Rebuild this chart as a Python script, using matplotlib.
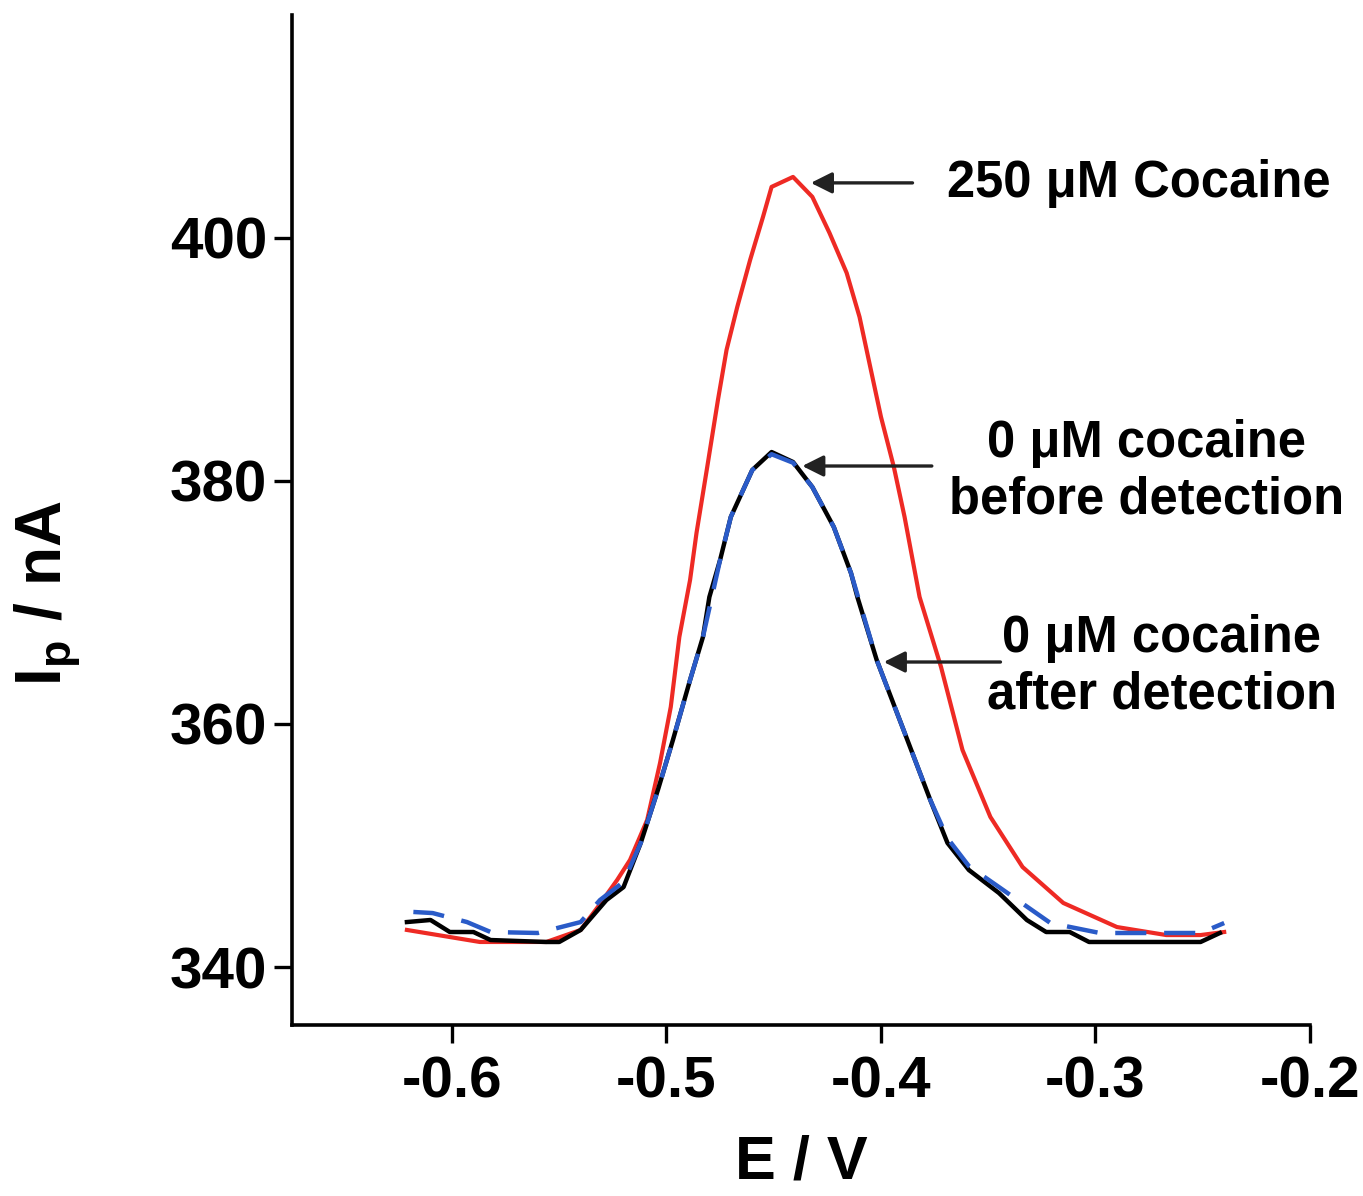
import matplotlib
matplotlib.use("Agg")
import matplotlib.pyplot as plt
from matplotlib import rcParams

# ---------------- fonts ----------------
rcParams['font.family'] = ['Liberation Sans', 'DejaVu Sans']
rcParams['font.weight'] = 'bold'
rcParams['mathtext.fontset'] = 'custom'
rcParams['mathtext.rm'] = 'Liberation Sans:bold'
rcParams['mathtext.it'] = 'Liberation Sans:bold'
rcParams['mathtext.bf'] = 'Liberation Sans:bold'

# ---------------- data ----------------
# 250 uM cocaine (red)
E_red = [-0.621, -0.587, -0.556, -0.540, -0.532, -0.523, -0.517, -0.509, -0.503,
         -0.498, -0.494, -0.489, -0.486, -0.481, -0.476, -0.472, -0.467, -0.461,
         -0.455, -0.451, -0.441, -0.432, -0.424, -0.416, -0.410, -0.405, -0.400,
         -0.394, -0.389, -0.382, -0.372, -0.362, -0.349, -0.334, -0.315, -0.290,
         -0.267, -0.251, -0.240]
I_red = [343.05, 342.06, 342.06, 343.05, 344.94, 347.16, 348.81, 352.10, 356.79,
         361.40, 367.16, 371.85, 375.72, 381.15, 386.67, 390.78, 394.32, 398.19,
         401.73, 404.20, 405.02, 403.38, 400.41, 397.12, 393.50, 389.38, 385.27,
         381.15, 377.04, 370.45, 364.69, 357.86, 352.35, 348.23, 345.27, 343.29,
         342.63, 342.63, 342.88]

# 0 uM cocaine before detection (black)
E_before = [-0.621, -0.610, -0.601, -0.590, -0.582, -0.556, -0.550, -0.540, -0.528,
            -0.520, -0.512, -0.504, -0.497, -0.489, -0.483, -0.480, -0.475, -0.470,
            -0.460, -0.451, -0.441, -0.432, -0.422, -0.414, -0.411, -0.402, -0.390,
            -0.377, -0.369, -0.359, -0.345, -0.332, -0.323, -0.312, -0.303, -0.251,
            -0.242]
I_before = [343.70, 343.87, 342.88, 342.88, 342.22, 342.06, 342.06, 343.05, 345.51,
            346.58, 350.21, 354.57, 358.68, 363.62, 367.16, 370.45, 373.50, 377.04,
            380.90, 382.38, 381.56, 379.50, 376.21, 372.43, 370.45, 365.27, 359.75,
            353.74, 350.21, 347.98, 346.09, 343.87, 342.88, 342.88, 342.06, 342.06,
            342.80]

# 0 uM cocaine after detection (blue dashed)
E_after = [-0.618, -0.609, -0.593, -0.582, -0.560, -0.540, -0.531, -0.520, -0.512,
           -0.504, -0.497, -0.489, -0.483, -0.475, -0.470, -0.460, -0.451, -0.441,
           -0.432, -0.422, -0.414, -0.402, -0.390, -0.377, -0.369, -0.359, -0.345,
           -0.321, -0.298, -0.251, -0.240]
I_after = [344.53, 344.44, 343.70, 342.88, 342.80, 343.70, 345.51, 347.00, 350.21,
           354.57, 358.68, 363.62, 367.16, 373.50, 377.04, 380.90, 382.20, 381.50,
           379.50, 376.21, 372.43, 365.27, 359.75, 353.74, 350.60, 348.30, 346.58,
           343.62, 342.80, 342.80, 343.62]

x_ticks = [-0.6, -0.5, -0.4, -0.3, -0.2]
y_ticks = [340, 360, 380, 400]

# ---------------- plot ----------------
fig = plt.figure(figsize=(13.63, 11.96), dpi=100)
ax = fig.add_axes([0.2142, 0.143, 0.7469, 0.8445])

ax.plot(E_red, I_red, color='#ee2a24', lw=3.0)
ax.plot(E_before, I_before, color='black', lw=3.2)
ax.plot(E_after, I_after, color='#2a5bc8', lw=3.2, dashes=(7, 4))

ax.set_xlim(-0.6746, -0.2)
ax.set_ylim(335.23, 418.35)
ax.set_xticks(x_ticks)
ax.set_yticks(y_ticks)
ax.set_xticklabels(['%.1f' % v for v in x_ticks])

for side in ['top', 'right']:
    ax.spines[side].set_visible(False)
for side in ['left', 'bottom']:
    ax.spines[side].set_linewidth(2.6)

ax.tick_params(direction='out', length=13, width=2.4, labelsize=42)
ax.tick_params(axis='x', pad=9)
ax.tick_params(axis='y', pad=5)

ax.set_xlabel('E / V', fontsize=44, fontweight='bold')
ax.xaxis.set_label_coords(0.5, -0.108)
ax.set_ylabel('I$_p$ / nA', fontsize=46, fontweight='bold')
ax.yaxis.set_label_coords(-0.205, 0.428)

# annotations
arrow = dict(arrowstyle='-|>', color='#222222', lw=2.4, mutation_scale=32)
ax.annotate('', xy=(-0.434, 404.53), xytext=(-0.384, 404.53), arrowprops=arrow)
ax.text(-0.369, 404.5, '250 \u03bcM Cocaine', fontsize=36.5, fontweight='bold',
        ha='left', va='center')

ax.annotate('', xy=(-0.438, 381.23), xytext=(-0.375, 381.23), arrowprops=arrow)
ax.text(-0.276, 380.74, '0 \u03bcM cocaine\nbefore detection', fontsize=36.5,
        fontweight='bold', ha='center', va='center', linespacing=1.2)

ax.annotate('', xy=(-0.400, 365.10), xytext=(-0.343, 365.10), arrowprops=arrow)
ax.text(-0.269, 364.69, '0 \u03bcM cocaine\nafter detection', fontsize=36.5,
        fontweight='bold', ha='center', va='center', linespacing=1.2)

plt.savefig('out.png', dpi=100)
plt.close()
